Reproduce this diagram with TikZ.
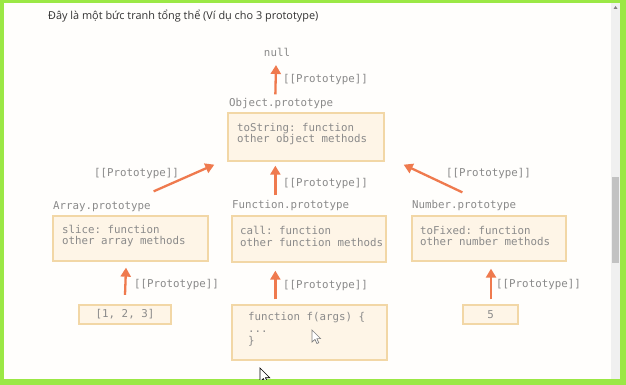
\documentclass[tikz,border=0pt]{standalone}
\usepackage{fontspec}
\setmainfont{Open Sans}
\setmonofont{DejaVu Sans Mono}
\usetikzlibrary{arrows.meta}
\definecolor{framegreen}{HTML}{9BE845}
\definecolor{pagebg}{HTML}{FFFEFC}
\definecolor{track}{HTML}{F0F0F0}
\definecolor{thumb}{HTML}{C2C2C2}
\definecolor{boxfill}{HTML}{FEF5E7}
\definecolor{boxline}{HTML}{F2D7A6}
\definecolor{codegray}{HTML}{8A8A8A}
\definecolor{arrowcoral}{HTML}{EF7A4E}
\definecolor{titleink}{HTML}{333333}
\tikzset{
  mono/.style={font=\fontsize{10.8}{11.8}\selectfont\ttfamily, text=codegray, inner sep=0pt},
  protobox/.style={draw=boxline, fill=boxfill, line width=1.3pt, inner sep=0pt},
  codetext/.style={mono, anchor=west, align=left},
  linklabel/.style={mono},
  protoarrow/.style={draw=arrowcoral, line width=2.3pt,
    -{Triangle[length=9pt,width=10pt]}},
  pointer/.style={line width=0.7pt, line join=miter}
}
\begin{document}
\begin{tikzpicture}[x=1pt,y=-1pt]
  % window frame, page and scrollbar
  \fill[framegreen] (0,0) rectangle (626,385);
  \useasboundingbox (0,0) rectangle (626,385);
  \fill[pagebg] (4,3) rectangle (620,379);
  \fill[track] (611,3) rectangle (620,379);
  \fill[thumb] (612,177) rectangle (619,263);
  \fill[gray] (613.5,9) -- (617.5,9) -- (615.5,6) -- cycle;

  % heading
  \node[anchor=west, inner sep=0pt, text=titleink,
        font=\fontsize{10.9}{13}\selectfont] (heading) at (48,16)
    {Đây là một bức tranh tổng thể (Ví dụ cho 3 prototype)};

  % top of the chain
  \node[mono] (null) at (277,52) {null};

  % Object.prototype
  \node[mono, anchor=west] (objtitle) at (229,104) {Object.prototype};
  \node[protobox, minimum width=156pt, minimum height=48pt] (objbox) at (306,137) {};
  \node[codetext] (objtext) at (237,134) {toString: function\\other object methods};

  % Array.prototype
  \node[mono, anchor=west] (arrtitle) at (53,207) {Array.prototype};
  \node[protobox, minimum width=155pt, minimum height=45pt] (arrbox) at (130.5,238.5) {};
  \node[codetext] (arrtext) at (62,236) {slice: function\\other array methods};

  % Function.prototype
  \node[mono, anchor=west] (funtitle) at (232,206) {Function.prototype};
  \node[protobox, minimum width=154pt, minimum height=46pt] (funbox) at (309,239) {};
  \node[codetext] (funtext) at (240,236.5) {call: function\\other function methods};

  % Number.prototype
  \node[mono, anchor=west] (numtitle) at (412,206) {Number.prototype};
  \node[protobox, minimum width=154pt, minimum height=45pt] (numbox) at (489,238.5) {};
  \node[codetext] (numtext) at (420,236) {toFixed: function\\other number methods};

  % concrete values
  \node[protobox, mono, minimum width=92pt, minimum height=19pt] (arrval) at (125,314.5) {[1, 2, 3]};
  \node[protobox, minimum width=155pt, minimum height=55pt] (funval) at (309.5,332.5) {};
  \node[codetext] (funcode) at (248,329) {function f(args) \{\\...\\\}};
  \node[protobox, mono, minimum width=55pt, minimum height=19pt] (numval) at (490.5,314.5) {5};

  % [[Prototype]] links
  \draw[protoarrow] ([shift={(48,-18)}]objbox.north west) -- ([shift={(-1,13)}]null.center);
  \node[linklabel] (objlink) at (325.5,80) {[[Prototype]]};

  \draw[protoarrow] ([shift={(-55,-24)}]arrbox.north east) -- ([shift={(-13,3)}]objbox.south west);
  \node[linklabel] (arrlink) at (136.5,174) {[[Prototype]]};

  \draw[protoarrow] ([shift={(44,-20)}]funbox.north west) -- ([shift={(48,4)}]objbox.south west);
  \node[linklabel] (funlink) at (325.5,184) {[[Prototype]]};

  \draw[protoarrow] ([shift={(51,-23)}]numbox.north west) -- ([shift={(19,3)}]objbox.south east);
  \node[linklabel] (numlink) at (488.5,174) {[[Prototype]]};

  \draw[protoarrow] ([shift={(0,-9.5)}]arrval.north) -- ([shift={(-4.5,6)}]arrbox.south);
  \node[linklabel] (arrvallink) at (176.5,285) {[[Prototype]]};

  \draw[protoarrow] ([shift={(44,-5)}]funval.north west) -- ([shift={(44,8)}]funbox.south west);
  \node[linklabel] (funvallink) at (325.5,286) {[[Prototype]]};

  \draw[protoarrow] ([shift={(0.5,-5)}]numval.north) -- ([shift={(2,7)}]numbox.south);
  \node[linklabel] (numvallink) at (538.5,285) {[[Prototype]]};

  % mouse pointers
  \draw[pointer, fill=white, draw=gray, shift={(312,330)}, scale=0.75]
    (0,0) -- (0,16) -- (4,12.5) -- (6.5,18) -- (9,17) -- (6.5,11.5) -- (11.5,11.5) -- cycle;
  \begin{scope}
    \clip (4,3) rectangle (620,379);
    \draw[pointer, fill=white, draw=black, shift={(260,368)}, scale=0.85]
      (0,0) -- (0,16) -- (4,12.5) -- (6.5,18) -- (9,17) -- (6.5,11.5) -- (11.5,11.5) -- cycle;
  \end{scope}
\end{tikzpicture}
\end{document}
